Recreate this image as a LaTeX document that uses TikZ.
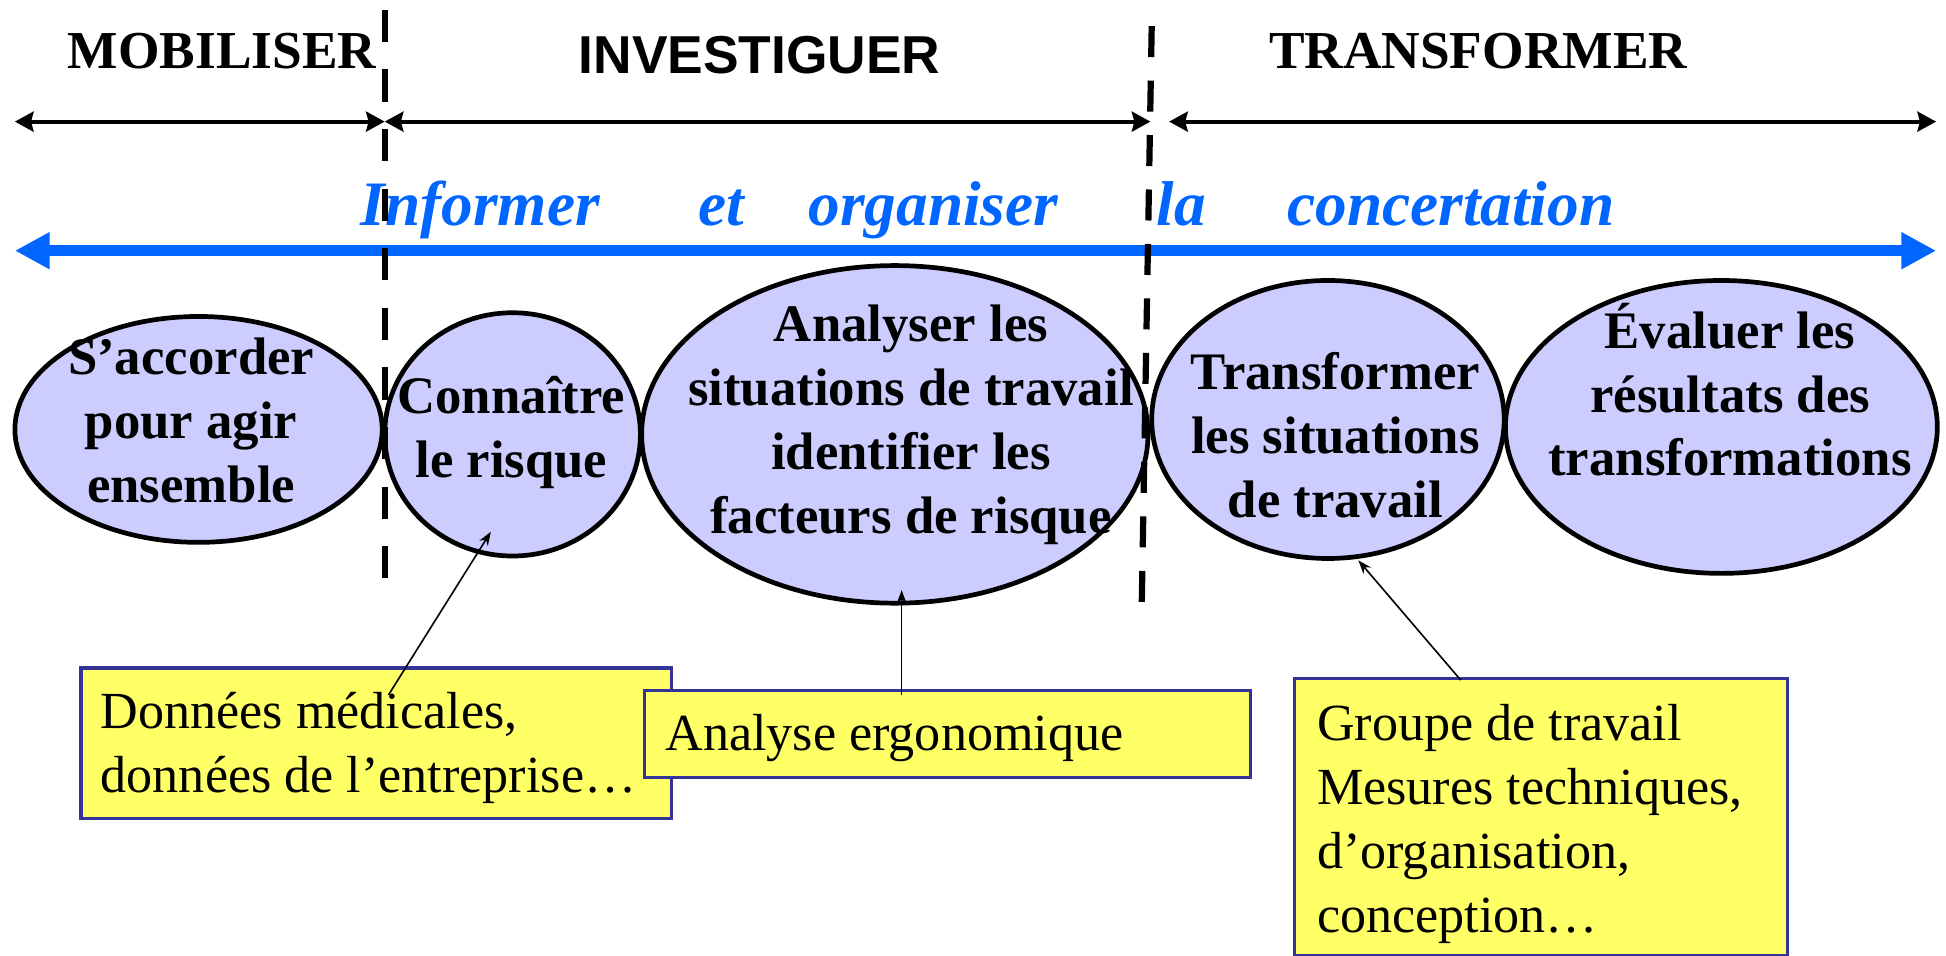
\documentclass[tikz,border=0pt]{standalone}
\usepackage{fontspec}
\setmainfont{Liberation Serif}
\newfontfamily\arialfam{Liberation Sans}
\usetikzlibrary{arrows.meta,shapes.geometric}
\definecolor{lav}{HTML}{CCCCFF}
\definecolor{ylw}{HTML}{FFFF66}
\definecolor{bxb}{HTML}{333399}
\definecolor{blu}{HTML}{0066FF}
\newcommand{\mlines}[2]{\begin{tabular}[t]{@{}#1@{}}#2\end{tabular}}
\begin{document}
\begin{tikzpicture}[x=1pt,y=-1pt,
  hdr/.style={inner sep=0pt, anchor=base, font={\fontsize{43}{50}\selectfont\bfseries}},
  bluew/.style={inner sep=0pt, anchor=base, text=blu, font={\fontsize{51}{60}\selectfont\bfseries\itshape}},
  ell/.style={ellipse, draw=black, line width=3.8pt, fill=lav, inner sep=0pt},
  etxt/.style={inner sep=0pt, anchor=base, font={\fontsize{42.5}{51.5}\selectfont\bfseries}},
  ybox/.style={rectangle, draw=bxb, line width=2.5pt, fill=ylw, inner sep=0pt, anchor=north west},
  btxt/.style={inner sep=0pt, anchor=base west, font={\fontsize{42}{51.5}\selectfont}},
  blk/.style={line width=3.2pt, {Stealth[length=15pt,width=16pt,inset=2pt]}-{Stealth[length=15pt,width=16pt,inset=2pt]}},
  bluarrow/.style={line width=9pt, draw=blu, {Triangle[length=28pt,width=28pt]}-{Triangle[length=28pt,width=28pt]}},
  sepA/.style={line width=5pt, dash pattern=on 26pt off 22pt},
  sepB/.style={line width=5pt, dash pattern=on 25pt off 18.9pt},
  conn/.style={line width=1.3pt, -{Stealth[length=11pt,width=8pt]}}
]
\useasboundingbox (0,0) rectangle (1568,770.3);

% headers
\node[hdr] (hM) at (179,55) {MOBILISER};
\node[hdr, font={\fontsize{43}{50}\selectfont\arialfam\bfseries}] (hI) at (612,59) {INVESTIGUER};
\node[hdr] (hT) at (1191,55) {TRANSFORMER};

% black double arrows
\coordinate (a1l) at (12,98);
\coordinate (a1r) at (310,98);
\coordinate (a2l) at (310,98);
\coordinate (a2r) at (927,98);
\coordinate (a3l) at (942,98);
\coordinate (a3r) at (1560,98);
\draw[blk] (a1l) -- (a1r);
\draw[blk] (a2l) -- (a2r);
\draw[blk] (a3l) -- (a3r);

% blue words
\node[bluew] (w1) at (387,182) {Informer};
\node[bluew] (w2) at (581.5,182) {et};
\node[bluew] (w3) at (752,182) {organiser};
\node[bluew] (w4) at (952,182) {la};
\node[bluew] (w5) at (1169,182) {concertation};

% blue arrow
\coordinate (bl) at (12,202);
\coordinate (br) at (1560,202);
\draw[bluarrow] (bl) -- (br);

% ellipses
\node[ell, minimum width=296pt, minimum height=182pt] (e1) at (160,346) {};
\node[ell, minimum width=206pt, minimum height=196pt] (e2) at (413,350) {};
\node[ell, minimum width=408pt, minimum height=272pt] (e3) at (721,350) {};
\node[ell, minimum width=284pt, minimum height=224pt] (e4) at (1070,338) {};
\node[ell, minimum width=348pt, minimum height=236pt] (e5) at (1387,344) {};

\node[etxt] (l1) at (154,302) {\mlines{c}{S’accorder\\pour agir\\ensemble}};
\node[etxt] (l2) at (412,333) {\mlines{c}{Connaître\\le risque}};
\node[etxt] (l3) at (734,275.5) {\mlines{c}{Analyser les\\situations de travail\\identifier les\\facteurs de risque}};
\node[etxt] (l4) at (1076,314) {\mlines{c}{Transformer\\les situations\\de travail}};
\node[etxt] (l5) at (1394,280.5) {\mlines{c}{Évaluer les\\résultats des\\transformations}};

% yellow boxes
\node[ybox, minimum width=476pt, minimum height=121pt] (bA) at (64,537) {};
\node[btxt] (tA) at (81,587) {\mlines{l}{Données médicales,\\données de l’entreprise…}};
\node[ybox, minimum width=488pt, minimum height=70pt] (bB) at (518,555) {};
\node[btxt] (tB) at (536,604.5) {Analyse ergonomique};
\node[ybox, minimum width=397pt, minimum height=223.5pt] (bC) at (1042,545.5) {};
\node[btxt] (tC) at (1061,596.5) {\mlines{l}{Groupe de travail\\Mesures techniques,\\d’organisation,\\conception…}};

% connectors
\coordinate (cA) at (313,560);
\coordinate (pA) at (395.5,428.5);
\coordinate (cB) at (726.5,560);
\coordinate (pB) at (726.5,475.5);
\coordinate (cC) at (1177,548);
\coordinate (pC) at (1094.5,451.5);
\draw[conn] (cA) -- (pA);
\draw[conn] (cB) -- (pB);
\draw[conn] (cC) -- (pC);

% dashed separators
\coordinate (d1t) at (310,8);
\coordinate (d1b) at (310,466);
\coordinate (d2t) at (928,21);
\coordinate (d2b) at (920,485);
\draw[sepA] (d1t) -- (d1b);
\draw[sepB] (d2t) -- (d2b);
\end{tikzpicture}
\end{document}
